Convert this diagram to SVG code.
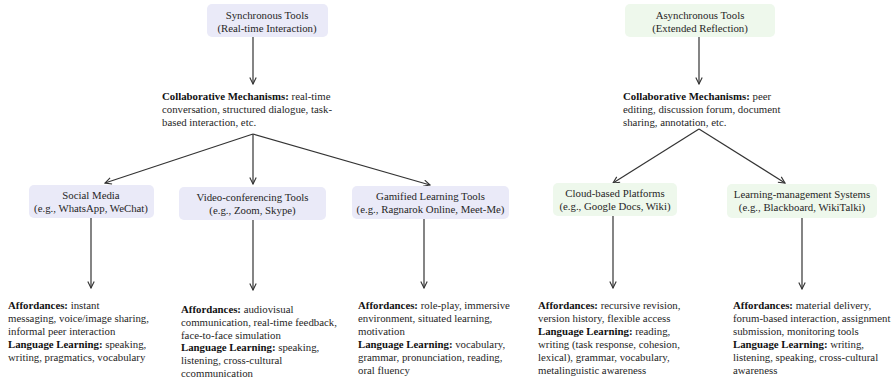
<svg xmlns="http://www.w3.org/2000/svg" width="892" height="380" viewBox="0 0 892 380">
<defs>
<style>
text{font-family:"Liberation Serif","Times New Roman",serif;font-size:10.8px;fill:#262626}
.c{text-anchor:middle}
.b{font-weight:bold;fill:#111}
.sync{fill:#eaeaf8}
.async{fill:#eef8ec}
.ln{stroke:#333;stroke-width:1.2;fill:none;marker-end:url(#ah)}
</style>
<marker id="ah" viewBox="0 0 10 10" refX="9" refY="5" markerWidth="8" markerHeight="8" markerUnits="userSpaceOnUse" orient="auto">
<path d="M1,1 L9,5 L1,9" fill="none" stroke="#333" stroke-width="1.4"/>
</marker>
</defs>
<rect width="892" height="380" fill="#fff"/>

<g id="connectors">
<path class="ln" d="M253,37 L253,84"/>
<path class="ln" d="M699,37 L699,84"/>
<path class="ln" d="M253,134 L105,183"/>
<path class="ln" d="M253,134 L253,184"/>
<path class="ln" d="M253,134 L430,185"/>
<path class="ln" d="M699,129 L613,183"/>
<path class="ln" d="M699,129 L785,183"/>
<path class="ln" d="M91,218 L91,288"/>
<path class="ln" d="M253,220 L253,290"/>
<path class="ln" d="M424,219 L424,288"/>
<path class="ln" d="M613,216 L613,288"/>
<path class="ln" d="M802,218 L802,289"/>
</g>

<g id="sync-tools">
<rect class="sync" x="207" y="4" width="121" height="33" rx="5"/>
<text class="c" x="267" y="19">Synchronous Tools</text>
<text class="c" x="267" y="32">(Real-time Interaction)</text>
</g>

<g id="async-tools">
<rect class="async" x="625" y="4" width="150" height="33" rx="5"/>
<text class="c" x="700" y="19">Asynchronous Tools</text>
<text class="c" x="700" y="32">(Extended Reflection)</text>
</g>

<g id="sync-mechanisms">
<text x="162" y="100"><tspan class="b">Collaborative Mechanisms:</tspan> real-time</text>
<text x="162" y="113">conversation, structured dialogue, task-</text>
<text x="162" y="126">based interaction, etc.</text>
</g>

<g id="async-mechanisms">
<text x="623" y="100"><tspan class="b">Collaborative Mechanisms:</tspan> peer</text>
<text x="623" y="113">editing, discussion forum, document</text>
<text x="623" y="126">sharing, annotation, etc.</text>
</g>

<g id="social-media">
<rect class="sync" x="29" y="185" width="125" height="33" rx="5"/>
<text class="c" x="91" y="199">Social Media</text>
<text class="c" x="91" y="212">(e.g., WhatsApp, WeChat)</text>
</g>

<g id="video-conferencing">
<rect class="sync" x="179" y="187" width="147" height="33" rx="5"/>
<text class="c" x="252.5" y="201">Video-conferencing Tools</text>
<text class="c" x="252.5" y="214">(e.g., Zoom, Skype)</text>
</g>

<g id="gamified">
<rect class="sync" x="352" y="186" width="157" height="33" rx="5"/>
<text class="c" x="430.5" y="200">Gamified Learning Tools</text>
<text class="c" x="430.5" y="213">(e.g., Ragnarok Online, Meet-Me)</text>
</g>

<g id="cloud-based">
<rect class="async" x="553" y="183" width="124" height="33" rx="5"/>
<text class="c" x="615" y="197">Cloud-based Platforms</text>
<text class="c" x="615" y="210">(e.g., Google Docs, Wiki)</text>
</g>

<g id="lms">
<rect class="async" x="727" y="184" width="150" height="34" rx="5"/>
<text class="c" x="802" y="198">Learning-management Systems</text>
<text class="c" x="802" y="211">(e.g., Blackboard, WikiTalki)</text>
</g>

<g id="social-details">
<text x="8" y="309"><tspan class="b">Affordances:</tspan> instant</text>
<text x="8" y="322">messaging, voice/image sharing,</text>
<text x="8" y="335">informal peer interaction</text>
<text x="8" y="348"><tspan class="b">Language Learning:</tspan> speaking,</text>
<text x="8" y="361">writing, pragmatics, vocabulary</text>
</g>

<g id="video-details">
<text x="181" y="313"><tspan class="b">Affordances:</tspan>  audiovisual</text>
<text x="181" y="325.8">communication, real-time feedback,</text>
<text x="181" y="338.6">face-to-face simulation</text>
<text x="181" y="351.4"><tspan class="b">Language Learning:</tspan> speaking,</text>
<text x="181" y="364.2">listening, cross-cultural</text>
<text x="181" y="377">ccommunication</text>
</g>

<g id="gamified-details">
<text x="358" y="309"><tspan class="b">Affordances:</tspan> role-play, immersive</text>
<text x="358" y="322">environment, situated learning,</text>
<text x="358" y="335">motivation</text>
<text x="358" y="348"><tspan class="b">Language Learning:</tspan> vocabulary,</text>
<text x="358" y="361">grammar, pronunciation, reading,</text>
<text x="358" y="374">oral fluency</text>
</g>

<g id="cloud-details">
<text x="538" y="309"><tspan class="b">Affordances:</tspan> recursive revision,</text>
<text x="538" y="322">version history, flexible access</text>
<text x="538" y="335"><tspan class="b">Language Learning:</tspan> reading,</text>
<text x="538" y="348">writing (task response, cohesion,</text>
<text x="538" y="361">lexical), grammar, vocabulary,</text>
<text x="538" y="374">metalinguistic awareness</text>
</g>

<g id="lms-details">
<text x="733" y="309"><tspan class="b">Affordances:</tspan> material delivery,</text>
<text x="733" y="322">forum-based interaction, assignment</text>
<text x="733" y="335">submission, monitoring tools</text>
<text x="733" y="348"><tspan class="b">Language Learning:</tspan> writing,</text>
<text x="733" y="361">listening, speaking, cross-cultural</text>
<text x="733" y="374">awareness</text>
</g>
</svg>
